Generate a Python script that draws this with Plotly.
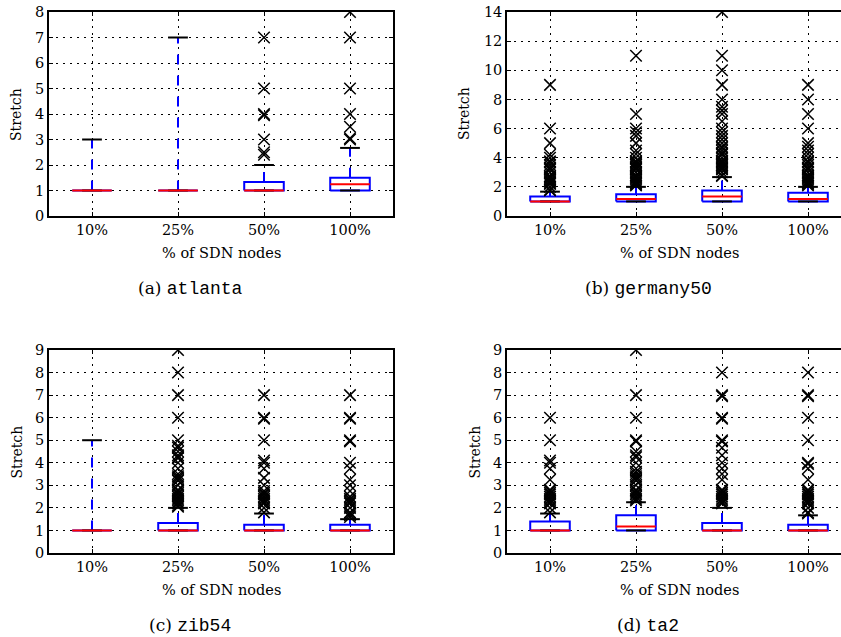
import plotly.graph_objects as go

# ---------------- data ----------------
categories = ["10%", "25%", "50%", "100%"]
positions = [1, 2, 3, 4]

atlanta_q1 = [1, 1, 1, 1]
atlanta_median = [1, 1, 1, 1.25]
atlanta_q3 = [1, 1, 1.33, 1.5]
atlanta_whislo = [1, 1, 1, 1]
atlanta_whishi = [3, 7, 2, 2.67]
atlanta_fliers = [
    [],
    [],
    [2.4, 2.5, 3, 3.95, 4, 5, 7],
    [3, 3.05, 3.5, 4, 5, 7, 8],
]

germany50_q1 = [1, 1, 1, 1]
germany50_median = [1, 1.17, 1.33, 1.17]
germany50_q3 = [1.33, 1.5, 1.75, 1.6]
germany50_whislo = [1, 1, 1, 1]
germany50_whishi = [1.67, 2, 2.67, 2]
germany50_fliers = [
    [1.75, 1.8, 2, 2.2, 2.25, 2.33, 2.4, 2.5, 2.6, 2.67, 2.75, 3, 3.2, 3.25, 3.33,
     3.5, 3.67, 3.75, 4, 4.2, 5, 6, 9],
    [2.1, 2.2, 2.25, 2.33, 2.4, 2.5, 2.6, 2.67, 2.75, 2.8, 3, 3.2, 3.25, 3.33, 3.4,
     3.5, 3.6, 3.67, 3.75, 4, 4.25, 4.5, 5, 5.5, 5.75, 6, 7, 11],
    [2.75, 2.8, 3, 3.2, 3.25, 3.33, 3.4, 3.5, 3.6, 3.67, 3.75, 3.8, 4, 4.2, 4.25,
     4.33, 4.5, 4.67, 4.75, 5, 5.25, 5.5, 5.75, 6, 6.5, 7, 7.25, 7.5,
     8, 9, 10, 11, 14],
    [2.1, 2.2, 2.25, 2.33, 2.4, 2.5, 2.6, 2.67, 2.75, 2.8, 3, 3.2, 3.25, 3.33, 3.5,
     3.67, 3.75, 4, 4.25, 4.5, 4.75, 5, 6, 7, 8, 9],
]

zib54_q1 = [1, 1, 1, 1]
zib54_median = [1, 1, 1, 1]
zib54_q3 = [1, 1.33, 1.25, 1.25]
zib54_whislo = [1, 1, 1, 1]
zib54_whishi = [5, 2, 1.75, 1.5]
zib54_fliers = [
    [],
    [2.05, 2.1, 2.2, 2.25, 2.33, 2.4, 2.5, 2.6, 2.67, 2.75, 2.8, 3, 3.2, 3.25, 3.33,
     3.4, 3.5, 3.75, 4, 4.2, 4.25, 4.33, 4.5, 4.67, 4.75, 5, 6, 7, 8, 9],
    [1.8, 2, 2.2, 2.25, 2.33, 2.4, 2.5, 2.6, 2.67, 2.75, 3, 3.33, 3.75, 4, 4.1,
     5, 5.95, 6, 7],
    [1.6, 1.67, 1.75, 1.8, 2, 2.2, 2.25, 2.33, 2.4, 2.5, 2.75, 3, 3.25, 3.75, 4,
     4.95, 5, 5.95, 6, 7],
]

ta2_q1 = [1, 1, 1, 1]
ta2_median = [1, 1.17, 1, 1]
ta2_q3 = [1.4, 1.67, 1.33, 1.25]
ta2_whislo = [1, 1, 1, 1]
ta2_whishi = [1.75, 2.25, 2, 1.67]
ta2_fliers = [
    [1.8, 2, 2.2, 2.25, 2.33, 2.4, 2.5, 2.6, 2.67, 2.75, 2.8, 3.25, 3.75, 4, 4.1,
     5, 6],
    [2.33, 2.4, 2.5, 2.6, 2.67, 2.75, 2.8, 3, 3.2, 3.25, 3.33, 3.4, 3.5, 3.6, 3.75,
     4, 4.25, 4.33, 4.5, 4.95, 5, 6, 7, 9],
    [2.2, 2.25, 2.33, 2.4, 2.5, 2.6, 2.67, 2.75, 2.8, 3.25, 3.5, 3.75, 4, 4.33,
     4.67, 4.95, 5, 5.95, 6, 6.95, 7, 8],
    [1.75, 1.8, 2, 2.2, 2.25, 2.33, 2.4, 2.5, 2.6, 2.67, 2.75, 2.8, 3.25, 3.75,
     3.95, 4, 5, 6, 6.95, 7, 8],
]

x_title = "% of SDN nodes"
y_title = "Stretch"

# ---------------- layout helpers ----------------
W, H = 841, 637
SERIF = "DejaVu Serif"
MONO = "Liberation Mono"


def fx(p):
    return p / W


def fy(p):
    return 1 - p / H


panels = [
    dict(name="atlanta", label="(a)", q1=atlanta_q1, med=atlanta_median, q3=atlanta_q3,
         lo=atlanta_whislo, hi=atlanta_whishi, fl=atlanta_fliers,
         ymax=8, dtick=1, left=49, right=393, xmax=4.5, top=12, bottom=216,
         ylab_x=16, cap_x=190, ymirror="ticks"),
    dict(name="germany50", label="(b)", q1=germany50_q1, med=germany50_median,
         q3=germany50_q3, lo=germany50_whislo, hi=germany50_whishi, fl=germany50_fliers,
         ymax=14, dtick=2, left=507, right=841, xmax=0.5 + (841 - 507) / 86.0,
         top=12, bottom=216, ylab_x=464, cap_x=648, ymirror=False),
    dict(name="zib54", label="(c)", q1=zib54_q1, med=zib54_median, q3=zib54_q3,
         lo=zib54_whislo, hi=zib54_whishi, fl=zib54_fliers,
         ymax=9, dtick=1, left=49, right=393, xmax=4.5, top=350, bottom=553,
         ylab_x=16, cap_x=190, ymirror="ticks"),
    dict(name="ta2", label="(d)", q1=ta2_q1, med=ta2_median, q3=ta2_q3,
         lo=ta2_whislo, hi=ta2_whishi, fl=ta2_fliers,
         ymax=9, dtick=1, left=507, right=841, xmax=0.5 + (841 - 507) / 86.0,
         top=350, bottom=553, ylab_x=474, cap_x=648, ymirror=False),
]

BW = 0.23   # half box width
CW = 0.115  # half cap width
BLUE = "#0000ff"
RED = "#ff0000"

fig = go.Figure()
annotations = []
layout_axes = {}

for k, p in enumerate(panels, start=1):
    xa = "x" if k == 1 else f"x{k}"
    ya = "y" if k == 1 else f"y{k}"
    common = dict(xaxis=xa, yaxis=ya, showlegend=False, hoverinfo="skip")
    for i, x in enumerate(positions):
        q1, med, q3, lo, hi = p["q1"][i], p["med"][i], p["q3"][i], p["lo"][i], p["hi"][i]
        # box
        fig.add_trace(go.Scatter(x=[x - BW, x + BW, x + BW, x - BW, x - BW],
                                 y=[q1, q1, q3, q3, q1], mode="lines",
                                 line=dict(color=BLUE, width=2), **common))
        # whiskers (dashed, starting at box edge)
        fig.add_trace(go.Scatter(x=[x, x], y=[q3, hi], mode="lines",
                                 line=dict(color=BLUE, width=2, dash="10px,11px"), **common))
        fig.add_trace(go.Scatter(x=[x, x], y=[q1, lo], mode="lines",
                                 line=dict(color=BLUE, width=2, dash="10px,11px"), **common))
        # caps
        fig.add_trace(go.Scatter(x=[x - CW, x + CW], y=[hi, hi], mode="lines",
                                 line=dict(color="black", width=2), **common))
        fig.add_trace(go.Scatter(x=[x - CW, x + CW], y=[lo, lo], mode="lines",
                                 line=dict(color="black", width=2), **common))
        # median
        fig.add_trace(go.Scatter(x=[x - BW, x + BW], y=[med, med], mode="lines",
                                 line=dict(color=RED, width=2), **common))
        # fliers
        if p["fl"][i]:
            fig.add_trace(go.Scatter(x=[x] * len(p["fl"][i]), y=p["fl"][i], mode="markers",
                                     marker=dict(symbol="x-thin", size=11.5, color="black",
                                                 line=dict(color="black", width=1.5)),
                                     cliponaxis=True, **common))

    axis_common = dict(
        showline=True, linecolor="black", linewidth=1.5, automargin=False,
        ticks="inside", ticklen=4, tickwidth=1, tickcolor="black",
        showgrid=True, gridcolor="black", gridwidth=1, griddash="2px,5px",
        zeroline=False, tickfont=dict(family=SERIF, size=14.5, color="black"),
    )
    xkey = "xaxis" if k == 1 else f"xaxis{k}"
    ykey = "yaxis" if k == 1 else f"yaxis{k}"
    layout_axes[xkey] = dict(
        domain=[fx(p["left"]), fx(p["right"])], anchor=ya, mirror="ticks",
        range=[0.5, p["xmax"]], tickmode="array", tickvals=positions, ticktext=categories,
        **axis_common)
    layout_axes[ykey] = dict(
        domain=[fy(p["bottom"]), fy(p["top"])], anchor=xa, mirror=p["ymirror"],
        range=[0, p["ymax"]], tickmode="linear", tick0=0, dtick=p["dtick"],
        **axis_common)

    mid_x = p["left"] + 172
    mid_y = (p["top"] + p["bottom"]) / 2
    annotations.append(dict(text=x_title, x=fx(mid_x), y=fy(p["bottom"] + 37),
                            xref="paper", yref="paper", showarrow=False,
                            xanchor="center", yanchor="middle",
                            font=dict(family=SERIF, size=14.5, color="black")))
    annotations.append(dict(text=y_title, x=fx(p["ylab_x"]), y=fy(mid_y),
                            xref="paper", yref="paper", showarrow=False, textangle=-90,
                            xanchor="center", yanchor="middle",
                            font=dict(family=SERIF, size=14, color="black")))
    annotations.append(dict(
        text=f"{p['label']} <span style=\"font-family:{MONO};font-size:18px\">{p['name']}</span>",
        x=fx(p["cap_x"]), y=fy(p["bottom"] + 72),
        xref="paper", yref="paper", showarrow=False, xanchor="center", yanchor="middle",
        font=dict(family=SERIF, size=17, color="black")))

fig.update_layout(
    width=W, height=H, autosize=False,
    margin=dict(l=0, r=0, t=0, b=0, autoexpand=False),
    paper_bgcolor="white", plot_bgcolor="white",
    annotations=annotations,
    **layout_axes,
)

fig.write_html(
    "out.html",
    config={"displayModeBar": False},
    post_script="document.body.style.margin='0';document.body.style.overflow='hidden';",
)
